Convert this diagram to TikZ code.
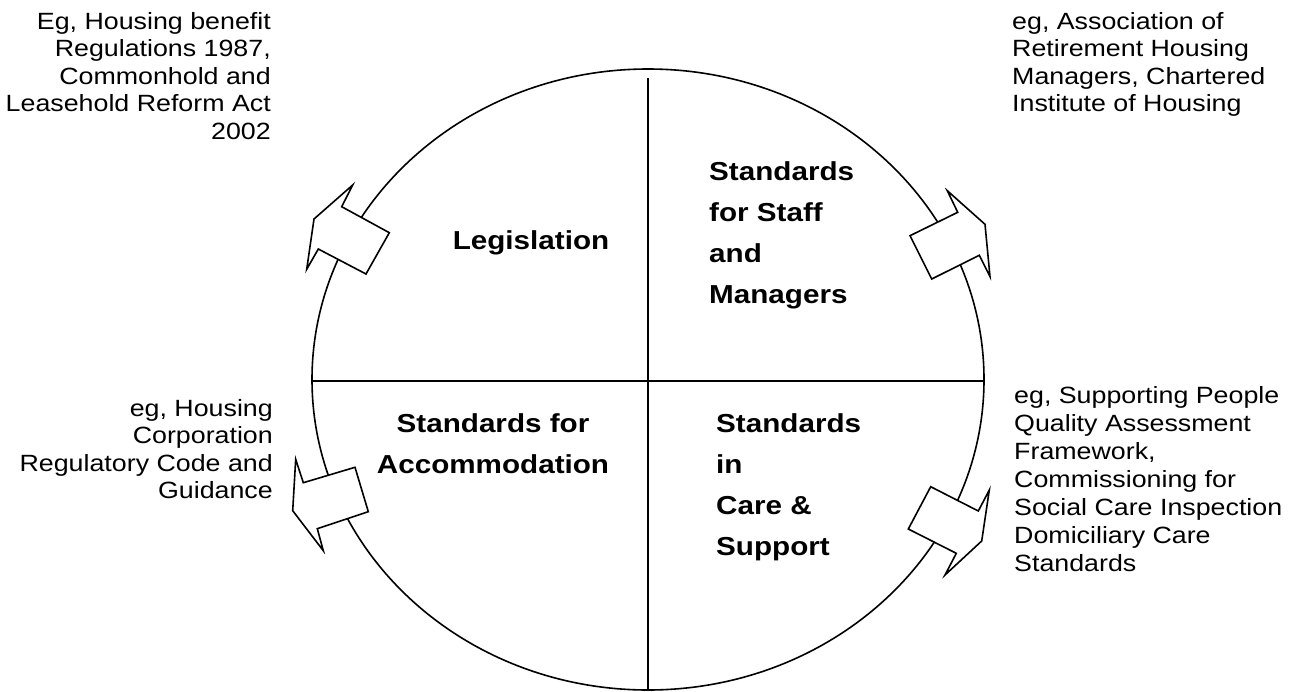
\documentclass[tikz,border=0pt]{standalone}
\usepackage{fontspec}
\setmainfont[FakeStretch=1.14]{Liberation Sans}
\begin{document}
\begin{tikzpicture}[x=1pt,y=-1pt,
  ln/.style={line width=1.6pt},
  blk/.style={ln,fill=white,line join=miter},
  note/.style={inner sep=0pt,font=\fontsize{23.5}{27.5}\selectfont},
  lbl/.style={inner sep=0pt,font=\fontsize{26}{41}\selectfont\bfseries}]
\useasboundingbox (0,0) rectangle (1298,691);
% circle and quadrant lines
\draw[ln] (648,379.5) ellipse [x radius=336, y radius=310.5];
\coordinate (vt) at (648,78);
\coordinate (vb) at (648,690);
\coordinate (hl) at (312,381);
\coordinate (hr) at (984,381);
\draw[ln] (vt) -- (vb);
\draw[ln] (hl) -- (hr);
% block arrows
\draw[blk] (314,219) -- (352.7,185) -- (341.7,206.7) -- (389.3,232.7) -- (366,274) -- (318.3,249) -- (306.7,269.3) -- cycle;
\draw[blk] (985,224.3) -- (947.3,190.7) -- (957.7,212.3) -- (910,235.7) -- (931.7,279) -- (979.3,255.3) -- (990,276.7) -- cycle;
\draw[blk] (292.7,510.7) -- (295.7,459.3) -- (303.3,482.7) -- (355,467.3) -- (368.3,511.7) -- (317.3,528.7) -- (323.3,550.7) -- cycle;
\draw[blk] (981.7,541) -- (989.3,490) -- (978.3,511) -- (930.7,486.7) -- (908.3,529) -- (956.3,553.3) -- (945,575) -- cycle;
% quadrant labels (base anchor = baseline of last line)
\node[lbl,anchor=base] (leg) at (531,249) {Legislation};
\node[lbl,anchor=base west,align=left] (staff) at (709,303) {Standards\\for Staff\\and\\Managers};
\node[lbl,anchor=base,align=center] (acc) at (493,473) {Standards for\\Accommodation};
\node[lbl,anchor=base west,align=left] (care) at (716,555) {Standards\\in\\Care \&\\Support};
% example notes
\node[note,anchor=base east,align=right] (n1) at (271,139.3) {Eg, Housing benefit\\Regulations 1987,\\Commonhold and\\Leasehold Reform Act\\2002};
\node[note,anchor=base west,align=left] (n2) at (1012,111.8) {eg, Association of\\Retirement Housing\\Managers, Chartered\\Institute of Housing};
\node[note,anchor=base east,align=right] (n3) at (273,498.5) {eg, Housing\\Corporation\\Regulatory Code and\\Guidance};
\node[note,anchor=base west,align=left,font=\fontsize{23.5}{28}\selectfont] (n4) at (1014,571.3) {eg, Supporting People\\Quality Assessment\\Framework,\\Commissioning for\\Social Care Inspection\\Domiciliary Care\\Standards};
\end{tikzpicture}
\end{document}
